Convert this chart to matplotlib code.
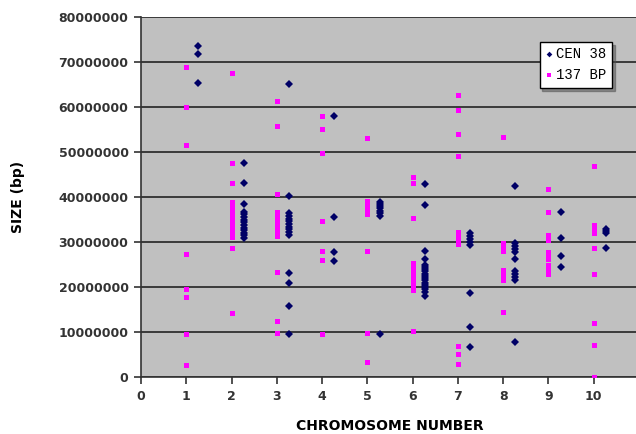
import matplotlib.pyplot as plt
from matplotlib.ticker import FuncFormatter

# chromosome numbers and sizes (millions of bp)
chromosomes = [1, 2, 3, 4, 5, 6, 7, 8, 9, 10]

cen38 = [
    [73.5, 71.7, 65.3],
    [47.5, 43.2, 38.4, 36.7, 36.2, 35.6, 35.0, 34.4, 33.8, 33.2, 32.6, 32.0, 31.5, 31.0],
    [65.1, 40.3, 36.4, 35.8, 35.2, 34.6, 34.0, 33.4, 32.8, 32.2, 31.5, 23.1, 21.0, 15.8, 9.6],
    [57.9, 35.6, 27.8, 25.8],
    [39.0, 38.5, 38.0, 37.5, 37.0, 36.5, 35.8, 9.5],
    [43.0, 38.2, 28.0, 26.2, 25.0, 24.5, 24.0, 23.5, 23.0, 22.5, 22.0, 21.5, 21.0,
     20.5, 20.0, 19.5, 19.0, 18.0],
    [32.0, 31.3, 30.6, 30.0, 29.3, 18.6, 11.2, 6.7],
    [42.5, 29.8, 29.2, 28.5, 27.8, 26.2, 23.6, 23.0, 22.3, 21.6, 7.8],
    [36.6, 30.8, 27.0, 24.4],
    [33.0, 32.4, 31.9, 28.6],
]

bp137 = [
    [69.0, 60.0, 51.6, 27.3, 19.6, 17.8, 9.5, 2.7],
    [67.6, 47.5, 43.2, 39.0, 38.4, 37.8, 37.2, 36.6, 36.0, 35.4, 34.8, 34.2, 33.6,
     33.0, 32.4, 31.8, 31.2, 28.7, 14.2],
    [61.4, 55.8, 40.7, 36.7, 36.1, 35.5, 34.9, 34.3, 33.7, 33.1, 32.5, 31.9, 31.3,
     23.3, 12.4, 9.8],
    [58.0, 55.1, 49.8, 34.7, 28.0, 26.0, 9.5],
    [53.1, 39.2, 38.6, 38.0, 37.4, 36.8, 36.2, 28.0, 9.8, 3.4],
    [44.5, 43.2, 35.3, 25.3, 24.7, 24.1, 23.5, 22.9, 22.3, 21.7, 21.1, 20.5, 19.9,
     19.3, 10.2],
    [62.6, 59.3, 54.0, 49.1, 32.3, 31.6, 30.9, 30.2, 29.5, 7.0, 5.1, 3.0],
    [53.4, 29.8, 28.9, 28.1, 23.8, 23.0, 22.3, 21.6, 14.5],
    [41.8, 36.7, 31.6, 31.0, 30.4, 27.8, 27.0, 26.3, 24.9, 24.0, 23.0],
    [47.0, 33.8, 32.8, 31.9, 28.7, 22.9, 12.1, 7.2, 0.1],
]

fig = plt.figure(figsize=(6.36, 4.34), dpi=100)
ax = fig.add_axes([141 / 636, 57 / 434, 498 / 636, 360 / 434])
ax.set_facecolor('#c0c0c0')

px, py = [], []
for c, vals in zip(chromosomes, bp137):
    px += [c] * len(vals)
    py += [v * 1e6 for v in vals]
nx, ny = [], []
for c, vals in zip(chromosomes, cen38):
    nx += [c + 0.27] * len(vals)
    ny += [v * 1e6 for v in vals]

ax.plot(nx, ny, 'D', color='#000066', ms=3.6, mew=0, label='CEN 38', zorder=3)
ax.plot(px, py, 's', color='#ff00ff', ms=3.6, mew=0, label='137 BP', zorder=3)

ax.set_xlim(0, 11)
ax.set_ylim(0, 80e6)
ax.set_xticks(range(0, 11))
ax.set_yticks([i * 10e6 for i in range(9)])
ax.yaxis.set_major_formatter(FuncFormatter(lambda v, p: '%d' % v))
ax.yaxis.grid(True, color='#3a3a3a', lw=1.4)
ax.set_axisbelow(True)

for s in ['top', 'right']:
    ax.spines[s].set_visible(False)
for s in ['left', 'bottom']:
    ax.spines[s].set_color('#333333')
    ax.spines[s].set_linewidth(1.2)

ax.tick_params(direction='out', length=5, width=1.2, color='#333333',
               labelsize=9, labelcolor='#333333', pad=4)
for lab in ax.get_xticklabels() + ax.get_yticklabels():
    lab.set_fontweight('bold')

ax.set_xlabel('CHROMOSOME NUMBER', fontsize=10, fontweight='bold', labelpad=12)
ax.set_ylabel('SIZE (bp)', fontsize=10, fontweight='bold', labelpad=24)

leg = ax.legend(loc='upper right', bbox_to_anchor=(478 / 498, 342 / 360),
                prop={'family': 'Liberation Mono', 'size': 10},
                frameon=True, fancybox=False, shadow=True, handlelength=0.6,
                handletextpad=0.2, borderpad=0.4, labelspacing=0.5, markerscale=0.8)
leg.get_frame().set_edgecolor('#000000')
leg.get_frame().set_linewidth(1.0)

fig.savefig('out.png', dpi=100)
